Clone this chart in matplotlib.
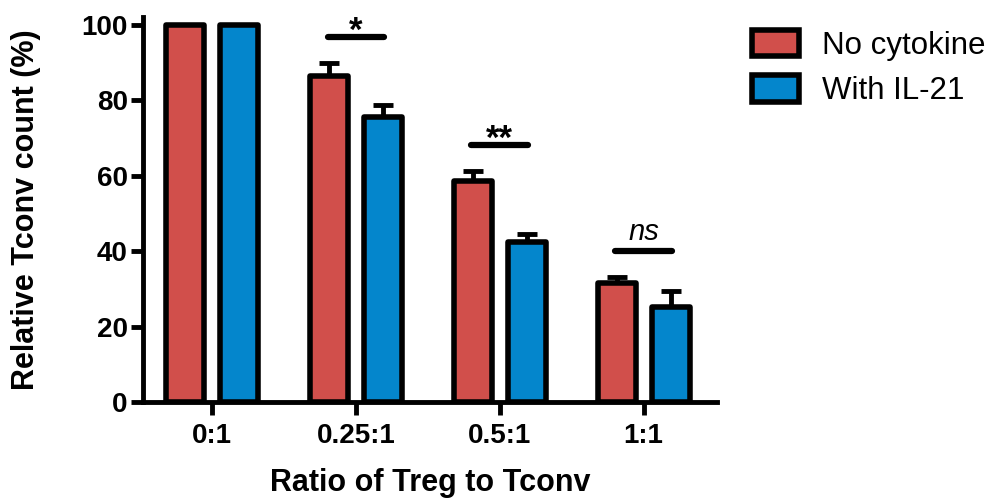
import numpy as np
import matplotlib
matplotlib.use("Agg")
import matplotlib.pyplot as plt

plt.rcParams['font.family'] = ['Liberation Sans', 'DejaVu Sans']

# data
ratios = ["0:1", "0.25:1", "0.5:1", "1:1"]
no_cyto = [100, 86.5, 58.5, 31.5]
no_cyto_err = [0, 3.3, 2.8, 1.6]
il21 = [100, 75.5, 42.3, 25.2]
il21_err = [0, 3.2, 2.3, 4.3]
sig_labels = ["", "*", "**", "ns"]
sig_heights = [0, 96.6, 68, 40]

red = "#d14f4b"
blue = "#0486cc"

fig = plt.figure(figsize=(9.89, 5.0), dpi=100)
ax = fig.add_axes([0.1446, 0.196, 0.5804, 0.770])

x = np.arange(len(ratios))
w = 0.265
off = 0.1875

b1 = ax.bar(x - off, no_cyto, w, color=red, edgecolor="black", linewidth=4,
            label="No cytokine", zorder=3)
b2 = ax.bar(x + off, il21, w, color=blue, edgecolor="black", linewidth=4,
            label="With IL-21", zorder=3)
for p in list(b1) + list(b2):
    p.set_joinstyle("round")

zeros = np.zeros(len(x))
ax.errorbar(x - off, no_cyto, yerr=[zeros, no_cyto_err], fmt="none", ecolor="black",
            elinewidth=3.5, capsize=7, capthick=3.5, zorder=2)
ax.errorbar(x + off, il21, yerr=[zeros, il21_err], fmt="none", ecolor="black",
            elinewidth=3.5, capsize=7, capthick=3.5, zorder=2)

# significance bars
for i, (lab, h) in enumerate(zip(sig_labels, sig_heights)):
    if not lab:
        continue
    ax.plot([x[i] - off - 0.01, x[i] + off + 0.01], [h, h], color="black", lw=4.5,
            solid_capstyle="round", zorder=4, clip_on=False)
    if lab == "ns":
        ax.text(x[i], h + 2.9, lab, ha="center", va="baseline", fontsize=21,
                style="italic", zorder=4)
    else:
        ax.text(x[i], h - 0.9, lab, ha="center", va="baseline", fontsize=25,
                fontweight="bold", zorder=4)

ax.set_xlim(-0.48, 3.51)
ax.set_ylim(0, 102)
ax.set_xticks(x)
ax.set_xticklabels(ratios)
ax.set_yticks([0, 20, 40, 60, 80, 100])

for s in ["top", "right"]:
    ax.spines[s].set_visible(False)
for s in ["left", "bottom"]:
    ax.spines[s].set_linewidth(3.5)

ax.tick_params(axis="both", direction="out", length=9, width=3.5, labelsize=20)
ax.tick_params(axis="x", pad=6)
ax.tick_params(axis="y", pad=2)
for t in ax.get_xticklabels() + ax.get_yticklabels():
    t.set_fontweight("bold")

ax.set_xlabel("Ratio of Treg to Tconv", fontsize=22, fontweight="bold", va="center")
ax.set_ylabel("Relative Tconv count (%)", fontsize=22, fontweight="bold", va="center")
ax.xaxis.set_label_coords(0.5, -0.21)
ax.yaxis.set_label_coords(-0.204, 0.5)

leg = ax.legend(loc="upper left", bbox_to_anchor=(1.04, 1.0), frameon=False,
                fontsize=22.5, handlelength=1.48, handleheight=0.95, labelspacing=0.45,
                handletextpad=0.75, borderaxespad=0)
for h in leg.legend_handles:
    h.set_linewidth(4)

fig.savefig("out.png", dpi=100)
